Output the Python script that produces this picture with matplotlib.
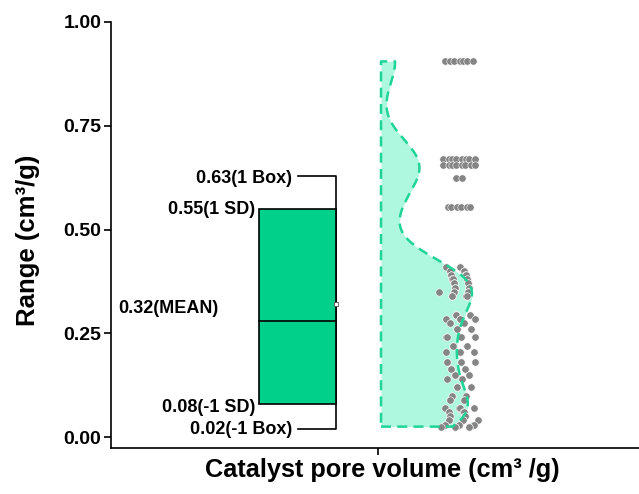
import numpy as np
import matplotlib.pyplot as plt
from matplotlib.patches import Rectangle

plt.rcParams['font.family'] = ['Liberation Sans', 'DejaVu Sans']
plt.rcParams['font.weight'] = 'bold'

# pore volume samples (cm3/g), grouped as value -> count
levels = [0.905, 0.67, 0.655, 0.625, 0.555,
          0.41, 0.40, 0.39, 0.38, 0.37, 0.36, 0.35, 0.34,
          0.295, 0.285, 0.275, 0.26, 0.24, 0.22, 0.205, 0.18, 0.165, 0.15,
          0.14, 0.12, 0.10, 0.09, 0.07, 0.06, 0.05, 0.04, 0.03, 0.025]
counts = [7, 8, 8, 2, 6,
          4, 5, 5, 5, 5, 5, 6, 5,
          4, 5, 4, 4, 5, 3, 5, 5, 4, 5,
          3, 4, 3, 3, 4, 5, 5, 6, 6, 6]

# summary statistics shown next to the box
box_hi, box_lo = 0.63, 0.02
sd_hi, sd_lo = 0.55, 0.08
mean_val = 0.32
median_val = 0.28

values = np.repeat(levels, counts)

fig = plt.figure(figsize=(6.39, 4.94), dpi=100)
ax = fig.add_axes([111 / 639, 46 / 494, 528 / 639, 426 / 494])

box_x, box_w = -0.805, 0.77
green = '#00d08a'

# box (1 SD) with whisker line on its right edge
ax.add_patch(Rectangle((box_x - box_w / 2, sd_lo), box_w, sd_hi - sd_lo,
                       facecolor=green, edgecolor='black', lw=1.2, zorder=2))
ax.plot([box_x - box_w / 2, box_x + box_w / 2], [median_val, median_val],
        color='black', lw=1.2, zorder=3)
wx = box_x + box_w / 2
ax.plot([box_x, wx, wx, box_x], [box_hi, box_hi, box_lo, box_lo],
        color='black', lw=1.2, zorder=1)
ax.plot(wx, mean_val, marker='s', ms=3, mfc='white', mec='#555555', mew=0.6, zorder=4)

fs = 13
ax.text(box_x - 0.05, box_hi - 0.006, f'{box_hi:.2f}(1 Box)', ha='right', va='center', fontsize=fs)
ax.text(box_x - box_w / 2 - 0.04, sd_hi - 0.003, f'{sd_hi:.2f}(1 SD)', ha='right', va='center', fontsize=fs)
ax.text(-2.6, mean_val - 0.01, f'{mean_val:.2f}(MEAN)', ha='left', va='center', fontsize=fs)
ax.text(box_x - box_w / 2 - 0.04, sd_lo - 0.008, f'{sd_lo:.2f}(-1 SD)', ha='right', va='center', fontsize=fs)
ax.text(box_x - 0.05, box_lo - 0.002, f'{box_lo:.2f}(-1 Box)', ha='right', va='center', fontsize=fs)

# half violin from a gaussian kde of the samples
grid = np.linspace(values.min(), values.max(), 300)
bw = 0.06
dens = np.exp(-0.5 * ((grid[:, None] - values[None, :]) / bw) ** 2).sum(axis=1)
dens = dens / dens.max() * 0.91
base = 0.03
ax.fill_betweenx(grid, base, base + dens, color='#aff8e0', lw=0, zorder=1)
outline_x = np.concatenate([[base], base + dens, [base, base]])
outline_y = np.concatenate([[grid[0]], grid, [grid[-1], grid[0]]])
ax.plot(outline_x, outline_y, color='#1fd496', lw=1.8, ls=(0, (4, 2.5)), zorder=5)

# jittered points, a little wider scatter in the dense lower part
n = len(values)
offs = np.zeros(n)
i = 0
for lv, c in zip(levels, counts):
    amp = 0.14 if lv < 0.5 else 0.02
    step = 0.055 if lv < 0.5 else 0.045
    for k in range(c):
        offs[i] = (k - (c - 1) / 2) * step + (((i * 0.618) % 1) - 0.5) * amp
        i += 1
ax.scatter(0.81 + offs, values, s=28, color='#858585', edgecolor='white', lw=0.4, zorder=4)

ax.set_xlim(-2.67, 2.61)
ax.set_ylim(-0.0265, 1.0)
ax.set_xticks([0])
ax.set_xticklabels([])
ax.set_yticks([0, 0.25, 0.5, 0.75, 1.0])
ax.set_yticklabels(['0.00', '0.25', '0.50', '0.75', '1.00'])
ax.tick_params(axis='y', labelsize=14, length=5, width=1.2, pad=2)
ax.tick_params(axis='x', length=5, width=1.2)
for lbl in ax.get_yticklabels():
    lbl.set_fontweight('bold')
ax.spines['top'].set_visible(False)
ax.spines['right'].set_visible(False)
ax.spines['left'].set_linewidth(1.2)
ax.spines['bottom'].set_linewidth(1.2)

ax.set_ylabel('Range (cm³/g)', fontsize=18.5, fontweight='bold')
ax.yaxis.set_label_coords(-71 / 528, 0.488)
ax.set_xlabel('Catalyst pore volume (cm³ /g)', fontsize=18.3, fontweight='bold')
ax.xaxis.set_label_coords((382 - 111) / 528, -10 / 426)

fig.savefig('out.png', dpi=100)
